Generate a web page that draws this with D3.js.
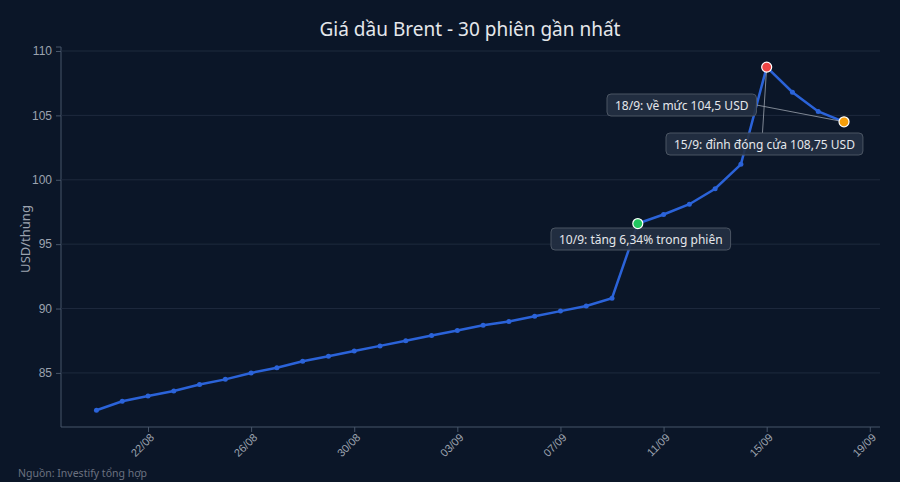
<!DOCTYPE html>
<html><head><meta charset="utf-8">
<script src="https://cdn.jsdelivr.net/npm/d3@7"></script>
<style>body{margin:0;background:#0b1628;}svg{display:block;font-family:"Noto Sans",sans-serif;}</style>
</head><body><svg id="c" width="900" height="482"></svg>
<script>
const dates = ["2025-08-20","2025-08-21","2025-08-22","2025-08-23","2025-08-24","2025-08-25","2025-08-26","2025-08-27","2025-08-28","2025-08-29","2025-08-30","2025-08-31","2025-09-01","2025-09-02","2025-09-03","2025-09-04","2025-09-05","2025-09-06","2025-09-07","2025-09-08","2025-09-09","2025-09-10","2025-09-11","2025-09-12","2025-09-13","2025-09-14","2025-09-15","2025-09-16","2025-09-17","2025-09-18"];
const prices = [82.1,82.8,83.2,83.6,84.1,84.5,85.0,85.4,85.9,86.3,86.7,87.1,87.5,87.9,88.3,88.7,89.0,89.4,89.8,90.2,90.8,96.6,97.3,98.1,99.3,101.2,108.75,106.8,105.3,104.5];
const yTicks = [85,90,95,100,105,110];
const xTickDates = ["2025-08-22","2025-08-26","2025-08-30","2025-09-03","2025-09-07","2025-09-11","2025-09-15","2025-09-19"];
const annotations = [
  {i:29, text:"18/9: về mức 104,5 USD", color:"#f59e0b", bx:607, by:94},
  {i:26, text:"15/9: đỉnh đóng cửa 108,75 USD", color:"#ef4444", bx:666, by:133},
  {i:21, text:"10/9: tăng 6,34% trong phiên", color:"#22c55e", bx:551, by:228}
];
const P = d3.timeParse("%Y-%m-%d");
const data = dates.map((d,i)=>({d:P(d),v:prices[i]}));
const svg = d3.select("#c");
const L=61,R=880,T=51,B=427;
const x = d3.scaleTime().domain([new Date(2025,7,18,15),new Date(2025,8,19,9,30)]).range([L,R]);
const y = d3.scaleLinear().domain([80.8,110]).range([B,T]);
svg.append("rect").attr("width",900).attr("height",482).attr("fill","#0b1628");
svg.append("text").attr("x",470).attr("y",36).attr("text-anchor","middle").attr("fill","#e5e7eb").attr("font-size",19).text("Giá dầu Brent - 30 phiên gần nhất");
const gy = svg.append("g").attr("transform",`translate(${L},0)`).call(d3.axisLeft(y).tickValues(yTicks).tickSize(5).tickPadding(4));
gy.selectAll("text").attr("fill","#9ca3af").attr("font-size",12);
gy.selectAll("line,path").attr("stroke","#475569");
gy.select(".domain").attr("d",`M-5,${T-4}H0V${B}`);
svg.append("g").selectAll("line").data(yTicks).join("line").attr("x1",L).attr("x2",R).attr("y1",d=>y(d)).attr("y2",d=>y(d)).attr("stroke","#1e2a3d").attr("stroke-width",1);
const gx = svg.append("g").attr("transform",`translate(0,${B})`).call(d3.axisBottom(x).tickValues(xTickDates.map(P)).tickFormat(d3.timeFormat("%d/%m")).tickSize(5));
gx.selectAll("line,path").attr("stroke","#475569");
gx.select(".domain").attr("d",`M${L},0H${R}`);
gx.selectAll("text").attr("fill","#9ca3af").attr("font-size",11).attr("text-anchor","end").attr("dx","-0.3em").attr("dy","0.4em").attr("transform","rotate(-45)");
svg.append("text").attr("transform",`translate(30,${(T+B)/2}) rotate(-90)`).attr("text-anchor","middle").attr("fill","#9ca3af").attr("font-size",13).text("USD/thùng");
svg.append("text").attr("x",18).attr("y",477).attr("fill","#6b7280").attr("font-size",10.5).text("Nguồn: Investify tổng hợp");
svg.append("path").datum(data).attr("fill","none").attr("stroke","#2b63d9").attr("stroke-width",2.5).attr("d",d3.line().x(d=>x(d.d)).y(d=>y(d.v)));
svg.append("g").selectAll("circle").data(data).join("circle").attr("cx",d=>x(d.d)).attr("cy",d=>y(d.v)).attr("r",2.5).attr("fill","#2b63d9");
annotations.forEach(a=>{
  const px=x(data[a.i].d), py=y(data[a.i].v);
  const g=svg.append("g");
  const t=g.append("text").attr("x",a.bx+8).attr("y",a.by+15.5).attr("fill","#e5e7eb").attr("font-size",12).text(a.text);
  const w=t.node().getComputedTextLength()+16;
  const cx=a.bx+w/2, cy=a.by+11;
  const ax = a.i===26 ? a.bx+w*0.5 : (a.i===29? a.bx+w : a.bx+w/2);
  g.insert("line","text").attr("x1",a.i===26?cx-2:ax).attr("y1",a.i===29?cy:a.by).attr("x2",px).attr("y2",py).attr("stroke","#9ca3af").attr("stroke-width",0.8);
  g.insert("rect","text").attr("x",a.bx).attr("y",a.by).attr("width",w).attr("height",22).attr("rx",4).attr("fill","#243042").attr("fill-opacity",0.9).attr("stroke","#4b5563");
  svg.append("circle").attr("cx",px).attr("cy",py).attr("r",5).attr("fill",a.color).attr("stroke","#fff").attr("stroke-width",1.2);
});
</script></body></html>
